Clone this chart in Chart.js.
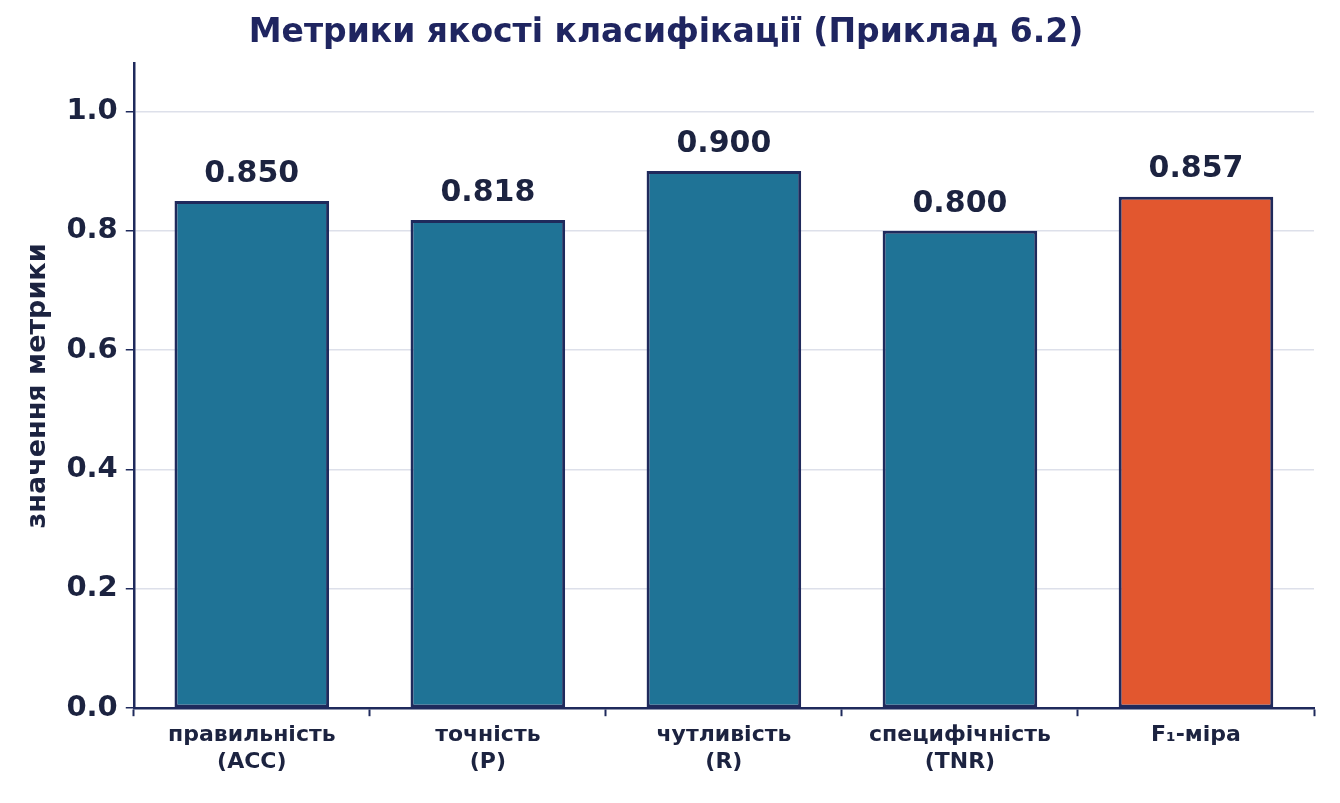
<!DOCTYPE html>
<html><head><meta charset="utf-8">
<script src="https://cdn.jsdelivr.net/npm/chart.js@4"></script>
<style>html,body{margin:0;padding:0;background:#fff}#w{width:1340px;height:803px}</style>
</head><body><div id="w"><canvas id="c"></canvas></div>
<script>
const categories = [["правильність","(ACC)"],["точність","(P)"],["чутливість","(R)"],["специфічність","(TNR)"],["F₁-міра"]];
const values = [0.850, 0.818, 0.900, 0.800, 0.857];
const barColors = ["#1f7396","#1f7396","#1f7396","#1f7396","#e2572f"];
const yTicks = [0.0,0.2,0.4,0.6,0.8,1.0];
const navy = "#1f2a5c", txt = "#1c2340";
const FONT = "'DejaVu Sans', sans-serif";
const labelPlugin = {
  id:'lbl',
  afterDatasetsDraw(chart){
    const ctx=chart.ctx, meta=chart.getDatasetMeta(0);
    ctx.save(); ctx.font="bold 30px "+FONT; ctx.fillStyle=txt; ctx.textAlign="center"; ctx.textBaseline="bottom";
    meta.data.forEach((b,i)=>ctx.fillText(values[i].toFixed(3), b.x, b.y-12));
    ctx.restore();
  }
};
new Chart(document.getElementById('c'),{
  type:'bar',
  data:{labels:categories,datasets:[{data:values,backgroundColor:barColors,borderColor:navy,borderWidth:3,borderSkipped:false,barPercentage:0.655,categoryPercentage:1}]},
  options:{
    responsive:true,maintainAspectRatio:false,animation:false,
    layout:{padding:{left:18,right:26,top:0,bottom:22}},
    plugins:{legend:{display:false},tooltip:{enabled:false},
      title:{display:true,text:"Метрики якості класифікації (Приклад 6.2)",color:"#1f2560",font:{family:FONT,size:33,weight:'bold'},padding:{top:14,bottom:10}}},
    scales:{
      x:{grid:{display:true,drawOnChartArea:false,drawTicks:true,tickLength:8,tickColor:navy,tickWidth:2},border:{color:navy,width:2.5},
        ticks:{color:txt,font:{family:FONT,size:22,weight:'bold'},maxRotation:0,autoSkip:false,padding:6}},
      y:{min:0,max:1.08,afterBuildTicks(s){s.ticks=yTicks.map(v=>({value:v}));},
        grid:{color:"#dde0ea",lineWidth:1.5,tickLength:8,tickColor:navy},border:{color:navy,width:2.5},
        ticks:{callback:v=>v.toFixed(1),color:txt,font:{family:FONT,size:29,weight:'bold'},padding:8},
        title:{display:true,text:"значення метрики",color:txt,font:{family:FONT,size:27,weight:'bold'},padding:{bottom:4}}}
    }
  },
  plugins:[labelPlugin]
});
</script></body></html>
